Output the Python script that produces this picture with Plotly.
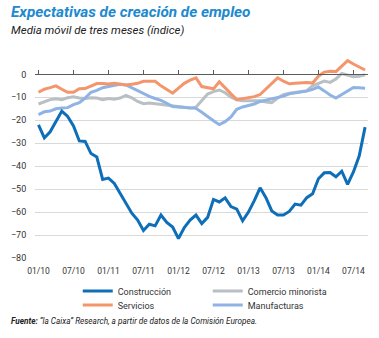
import plotly.graph_objects as go

# ---- data (monthly, Jan 2010 .. Sep 2014) ----
months = list(range(57))

construccion = [-22, -27.7, -25, -20.5, -16, -18.3, -22.5, -29, -29.2, -34.5,
                -36, -45.8, -45.2, -47.5, -52, -56.5, -60.5, -63.5, -68, -65.3,
                -66, -61.3, -64.5, -66.5, -71.5, -66.7, -63.5, -61.3, -65, -62.3,
                -54.5, -55.6, -53.8, -57.6, -58.7, -63.8, -60, -55, -49.4, -53.7,
                -59.5, -61.3, -61.3, -59.7, -56.5, -57, -53.7, -52, -45.5, -42.9,
                -42.8, -44.6, -42.2, -47.9, -42.5, -35.5, -23]

servicios = [-7.8, -6.5, -5.8, -5, -6.5, -7.8, -7.8, -6.3, -6.2, -5,
             -4, -4, -4.2, -3.9, -4.3, -4.6, -4.3, -3.9, -3, -2.9,
             -3, -5, -6.8, -8.2, -6, -3.9, -2.5, -1.5, -5.3, -5.8,
             -6.3, -3.2, -6, -8.5, -11, -10.6, -10.1, -9.7, -8.8, -6.5,
             -4, -1.5, -3, -4.1, -3.9, -3.8, -3.5, -3.8, -0.8, 1,
             1.4, 1.2, 3.6, 6, 4.5, 3.3, 1.9]

comercio = [-12.9, -12, -11, -10.6, -11, -10.2, -9.8, -10.3, -10.5, -10.2,
            -10.3, -11, -10.5, -10.8, -10.3, -9.2, -10.2, -11.8, -12.8, -12.5,
            -12.8, -13, -13.5, -13.8, -14, -14.4, -14.7, -14.3, -11.5, -8.6,
            -7.5, -6.8, -8, -10, -11.1, -11.5, -11.5, -11.5, -11.5, -12,
            -12.3, -10.3, -8.8, -8.2, -7.8, -7.5, -7.1, -5, -4, -2.9,
            -3.5, -2, 0.4, -0.4, -1, -0.8, -0.2]

manufacturas = [-17.5, -16.3, -16, -15, -14.7, -14.5, -13.2, -12.3, -10.3, -7.8,
                -7, -5.8, -5.3, -4.8, -4.3, -4.6, -5.8, -7.2, -8.5, -9.6,
                -10.5, -11.3, -12.6, -14, -14.2, -14.4, -14.6, -14.8, -16.5, -18.5,
                -20.2, -21.9, -20.6, -18.5, -15.2, -14.2, -13.5, -12.9, -11.8, -11.2,
                -10.8, -10.3, -9.5, -8.5, -8.2, -7.8, -7.3, -6.5, -5.5, -7.2,
                -9, -10.3, -8.8, -7.2, -5.7, -5.8, -6]

tick_vals = [0, 6, 12, 18, 24, 30, 36, 42, 48, 54]
tick_text = ["01/10", "07/10", "01/11", "07/11", "01/12", "07/12",
             "01/13", "07/13", "01/14", "07/14"]
y_ticks = [0, -10, -20, -30, -40, -50, -60, -70, -80]

# ---- geometry ----
W, H = 379, 338
ML, MR, MT, MB = 33, 11, 56, 80
PW, PH = W - ML - MR, H - MT - MB
X_RANGE = [-0.6, 56.5]
Y_RANGE = [-80, 8]


def px(x):
    return (x - ML) / PW


def py(y):
    return (H - MB - y) / PH


FONT = "Roboto"
C_CONS = "#0E6EB8"
C_SERV = "#F4956B"
C_COM = "#B9C0C3"
C_MAN = "#8FB4E3"

fig = go.Figure()
fig.add_trace(go.Scatter(x=months, y=comercio, name="Comercio minorista", mode="lines",
                         line=dict(color=C_COM, width=3), legend="legend", legendrank=2))
fig.add_trace(go.Scatter(x=months, y=manufacturas, name="Manufacturas", mode="lines",
                         line=dict(color=C_MAN, width=3), legend="legend2", legendrank=2))
fig.add_trace(go.Scatter(x=months, y=servicios, name="Servicios", mode="lines",
                         line=dict(color=C_SERV, width=3), legend="legend2", legendrank=1))
fig.add_trace(go.Scatter(x=months, y=construccion, name="Construcción", mode="lines",
                         line=dict(color=C_CONS, width=3), legend="legend", legendrank=1))
# helper trace so the zero-line axis (with upward ticks) is drawn
fig.add_trace(go.Scatter(x=[0], y=[None], xaxis="x2", showlegend=False,
                         hoverinfo="skip", mode="lines"))

legend_common = dict(orientation="h", xanchor="left", yanchor="middle",
                     font=dict(family=FONT, size=9, color="#333333"),
                     entrywidth=85, entrywidthmode="pixels",
                     bgcolor="rgba(0,0,0,0)", itemwidth=30, traceorder="normal")

fig.update_layout(
    width=W, height=H,
    margin=dict(l=ML, r=MR, t=MT, b=MB, pad=0),
    paper_bgcolor="white", plot_bgcolor="white",
    font=dict(family=FONT, color="#333333"),
    showlegend=True,
    legend=dict(x=px(76), y=py(291), **legend_common),
    legend2=dict(x=px(76), y=py(305), **legend_common),
    xaxis=dict(range=X_RANGE, tickvals=tick_vals, ticktext=tick_text,
               showgrid=False, zeroline=False, showline=False,
               ticks="outside", ticklen=5, tickcolor="rgba(0,0,0,0)",
               tickfont=dict(family=FONT, size=8.5, color="#333333")),
    xaxis2=dict(range=X_RANGE, overlaying="x", side="top", anchor="free",
                position=(0 - Y_RANGE[0]) / (Y_RANGE[1] - Y_RANGE[0]),
                showline=True, linecolor="#5A5A5A", linewidth=1,
                ticks="outside", ticklen=4, tickcolor="#5A5A5A", tickwidth=1,
                tickvals=tick_vals, showticklabels=False,
                showgrid=False, zeroline=False),
    yaxis=dict(range=Y_RANGE, tickvals=y_ticks, showgrid=True,
               gridcolor="#D9D9D9", gridwidth=1, zeroline=False, showline=False,
               ticks="outside", ticklen=6, tickcolor="rgba(0,0,0,0)",
               tickfont=dict(family=FONT, size=9, color="#333333")),
    annotations=[
        dict(text="<b><i>Expectativas de creación de empleo</i></b>",
             xref="paper", yref="paper", x=px(7), y=py(12),
             xanchor="left", yanchor="middle", showarrow=False,
             font=dict(family=FONT, size=15.3, color="#2189CE")),
        dict(text="<i>Media móvil de tres meses (índice)</i>",
             xref="paper", yref="paper", x=px(7), y=py(30),
             xanchor="left", yanchor="middle", showarrow=False,
             font=dict(family=FONT, size=11.5, color="#222222")),
        dict(text="<b><i>Fuente:</i></b><i> “la Caixa” Research, a partir de datos de la Comisión Europea.</i>",
             xref="paper", yref="paper", x=px(7), y=py(321),
             xanchor="left", yanchor="middle", showarrow=False,
             font=dict(family=FONT, size=8.2, color="#222222")),
    ],
)

fig.write_html("out.html")
